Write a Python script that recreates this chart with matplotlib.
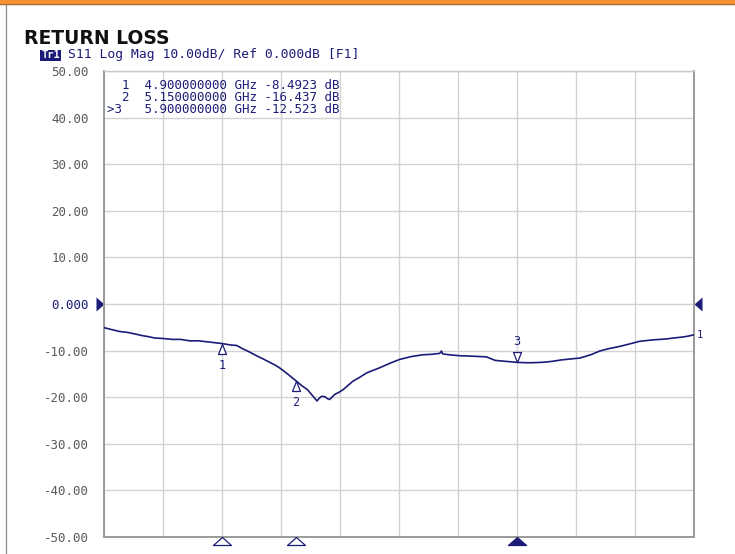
import numpy as np
import matplotlib
matplotlib.use("Agg")
import matplotlib.pyplot as plt
from matplotlib.path import Path
from matplotlib.patches import Rectangle
from matplotlib.lines import Line2D

# S11 trace, frequency in GHz, magnitude in dB
freq = [4.502, 4.52, 4.553, 4.58, 4.61, 4.631, 4.65, 4.672, 4.70, 4.733,
        4.76, 4.79, 4.82, 4.848, 4.875, 4.9, 4.93, 4.95, 4.97, 4.99,
        5.017, 5.04, 5.061, 5.08, 5.095, 5.12, 5.15, 5.17, 5.19, 5.206,
        5.222, 5.23, 5.238, 5.249, 5.257, 5.265, 5.282, 5.295, 5.31, 5.325,
        5.343, 5.365, 5.39, 5.41, 5.434, 5.47, 5.502, 5.54, 5.58, 5.61,
        5.638, 5.644, 5.648, 5.67, 5.706, 5.75, 5.797, 5.81, 5.826, 5.86,
        5.9, 5.93, 5.953, 5.99, 6.02, 6.05, 6.08, 6.113, 6.15, 6.18,
        6.21, 6.248, 6.28, 6.316, 6.36, 6.406, 6.43, 6.46, 6.48, 6.50]
s11 = [-5.1, -5.4, -5.9, -6.1, -6.5, -6.8, -7.0, -7.3, -7.4, -7.6,
       -7.6, -7.9, -7.9, -8.1, -8.3, -8.49, -8.8, -8.9, -9.6, -10.2,
       -11.1, -11.8, -12.5, -13.1, -13.7, -14.9, -16.44, -17.5, -18.4, -19.6,
       -20.8, -20.2, -19.8, -19.9, -20.3, -20.5, -19.4, -19.0, -18.4, -17.6,
       -16.6, -15.8, -14.8, -14.3, -13.7, -12.7, -11.9, -11.3, -10.9, -10.8,
       -10.6, -10.1, -10.7, -10.9, -11.1, -11.2, -11.35, -11.7, -12.1, -12.3,
       -12.52, -12.6, -12.6, -12.5, -12.3, -12.0, -11.8, -11.6, -10.9, -10.1,
       -9.6, -9.1, -8.6, -8.0, -7.7, -7.5, -7.3, -7.1, -6.9, -6.6]

# markers
mk_id = [1, 2, 3]
mk_freq = [4.9, 5.15, 5.9]
mk_val = [-8.4923, -16.437, -12.523]
active = 3

f_start, f_stop = 4.5, 6.5
ref_level = 0.0
scale_div = 10.0
y_ticks = [50, 40, 30, 20, 10, 0, -10, -20, -30, -40, -50]

NAVY = "#1c1c78"
GRID = "#d2d2d2"
FRAME = "#9a9a9a"
MONO = "DejaVu Sans Mono"

W, H = 735, 554
fig = plt.figure(figsize=(W / 100, H / 100), dpi=100)


def fx(px):
    return px / W


def fy(py):
    return 1 - py / H


# top orange bar and left rule
fig.patches.append(Rectangle((0, fy(3.5)), 1, 3.5 / H, transform=fig.transFigure,
                             facecolor="#f7922e", edgecolor="none"))
fig.lines.append(Line2D([0, 1], [fy(4), fy(4)], transform=fig.transFigure,
                        color="#9b6a3a", lw=0.8))
fig.lines.append(Line2D([0, 1], [fy(5.2), fy(5.2)], transform=fig.transFigure,
                        color="#ead9c4", lw=0.8))
fig.lines.append(Line2D([fx(5.5), fx(5.5)], [0, fy(5)], transform=fig.transFigure,
                        color="#8a8a8a", lw=0.9))

fig.text(fx(24), fy(44), "RETURN LOSS", fontsize=13.5, fontweight="bold",
         family="DejaVu Sans", va="baseline", color="#111111")
fig.text(fx(41), fy(58.5), "Tr1", fontsize=7.5, family=MONO, fontweight="bold",
         color="white", va="baseline",
         bbox=dict(boxstyle="square,pad=0.08", facecolor=NAVY, edgecolor="none"))
fig.text(fx(68), fy(58.5), "S11 Log Mag %.2fdB/ Ref %.3fdB [F1]" % (scale_div, ref_level),
         fontsize=9.4, family=MONO, color=NAVY, va="baseline")

ax = fig.add_axes([fx(104), fy(537), fx(694) - fx(104), fy(71) - fy(537)])
ax.plot(freq, s11, color=NAVY, lw=1.2, zorder=3)

ax.set_xlim(f_start, f_stop)
ax.set_ylim(-50, 50)
ax.set_xticks(np.arange(f_start, f_stop + 0.001, 0.2))
ax.set_xticklabels([])
ax.set_yticks(y_ticks)
ax.set_yticklabels(["%.3f" % v if v == 0 else "%.2f" % v for v in y_ticks])
ax.tick_params(length=0, pad=11, labelsize=9, labelcolor="#5a5a5a")
for lab in ax.get_yticklabels():
    lab.set_family(MONO)
    if lab.get_text() == "0.000":
        lab.set_color(NAVY)
ax.grid(True, color=GRID, lw=1.0)
ax.set_axisbelow(True)
for sp in ax.spines.values():
    sp.set_color(FRAME)
    sp.set_linewidth(1.4)
ax.spines["top"].set_color("#c8c8c8")
ax.spines["top"].set_linewidth(1.0)


def tri(verts):
    # marker path with its tip at the origin; size given in pixels
    verts = np.asarray(verts, float)
    ms = 2 * np.abs(verts).max() * 0.72
    path = Path(np.vstack([verts, verts[:1]]), closed=True)
    return path, ms


# reference level arrows at both sides of the grid
p, ms = tri([(0, 0), (-8, 7), (-8, -7)])
ax.plot([0], [ref_level], marker=p, ms=ms, color=NAVY, mew=0,
        transform=ax.get_yaxis_transform(), clip_on=False)
p, ms = tri([(0, 0), (8, 7), (8, -7)])
ax.plot([1], [ref_level], marker=p, ms=ms, color=NAVY, mew=0,
        transform=ax.get_yaxis_transform(), clip_on=False)

# marker positions along the bottom edge
p, ms = tri([(0, 0), (-9, -8), (9, -8)])
for i, f in zip(mk_id, mk_freq):
    fc = NAVY if i == active else "white"
    ax.plot([f], [0], marker=p, ms=ms, mfc=fc, mec=NAVY, mew=0.9,
            transform=ax.get_xaxis_transform(), clip_on=False, zorder=5)

# markers on the trace
up, ms_up = tri([(0, 0), (-4, -10), (4, -10)])
dn, ms_dn = tri([(0, 0), (-4, 10), (4, 10)])
for i, f, v in zip(mk_id, mk_freq, mk_val):
    if i == active:
        ax.plot([f], [v], marker=dn, ms=ms_dn, mfc="white", mec=NAVY, mew=0.9, zorder=5)
        ax.annotate(str(i), (f, v), xytext=(0, 10), textcoords="offset points",
                    ha="center", va="bottom", fontsize=8.5, family=MONO, color=NAVY)
    else:
        ax.plot([f], [v], marker=up, ms=ms_up, mfc="white", mec=NAVY, mew=0.9, zorder=5)
        ax.annotate(str(i), (f, v), xytext=(0, -11), textcoords="offset points",
                    ha="center", va="top", fontsize=8.5, family=MONO, color=NAVY)

# trace number at the end of the sweep
ax.annotate("1", (freq[-1], s11[-1]), xytext=(2, 0), textcoords="offset points",
            ha="left", va="center", fontsize=7.5, family=MONO, color=NAVY,
            annotation_clip=False)

# marker readout table
for row, (i, f, v) in enumerate(zip(mk_id, mk_freq, mk_val)):
    tag = (">%d " % i) if i == active else ("  %d" % i)
    line = "%s  %.9f GHz %s dB" % (tag, f, "%.5g" % v)
    fig.text(fx(107), fy(89 + 12 * row), line, fontsize=9, family=MONO,
             color=NAVY, va="baseline")

fig.savefig("out.png", dpi=100)
